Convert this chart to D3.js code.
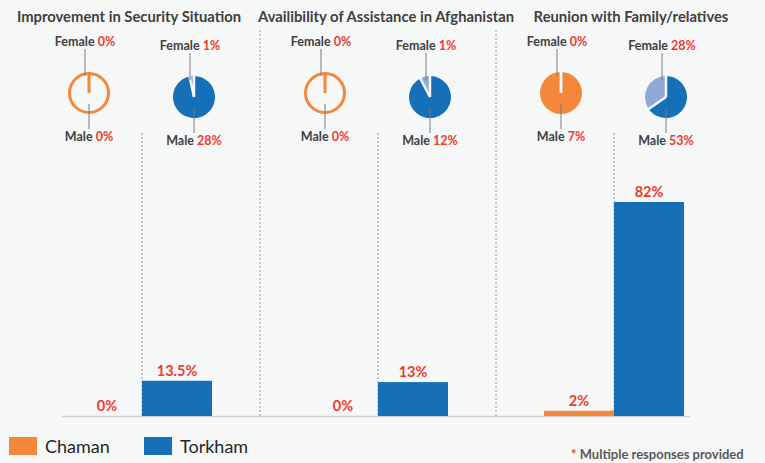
<!DOCTYPE html>
<html lang="en">
<head>
  <meta charset="UTF-8">
  <title>Reasons for return</title>
  <script src="https://d3js.org/d3.v7.min.js"></script>
  <style>
    body {
      margin: 0;
      background: #f6f7f7;
      font-family: Lato, "Open Sans", sans-serif;
    }
    svg { display: block; }
    .title { font-weight: bold; fill: #404040; font-size: 14.8px; }
    .pie-label { font-weight: bold; font-size: 12.5px; fill: #404040; }
    .red { fill: #ef3b2f; }
    .bar-label { font-weight: bold; font-size: 14.5px; fill: #ef3b2f; }
    .legend text { font-size: 18px; fill: #262626; }
  </style>
</head>
<body>
  <div id="chart"></div>

  <script>
    const categories = [
      "Improvement in Security Situation",
      "Availibility of Assistance in Afghanistan",
      "Reunion with Family/relatives"
    ];
    const sites = ["Chaman", "Torkham"];

    // bar values (% of respondents)
    const chamanValues = [0, 0, 2];
    const torkhamValues = [13.5, 13, 82];

    // pie values (male / female %)
    const chamanMale = [0, 0, 7];
    const chamanFemale = [0, 0, 0];
    const torkhamMale = [28, 12, 53];
    const torkhamFemale = [1, 1, 28];

    const width = 765;
    const height = 463;
    const baseline = 416;
    const colors = { Chaman: "#f4873a", Torkham: "#1570b8" };
    const femaleColors = { Chaman: "#f8b888", Torkham: "#8fa9d9" };
    // titles sit a little off the group centre in the original
    const titleShift = [-13, 8, 17];

    const svg = d3.select("#chart").append("svg")
      .attr("width", width)
      .attr("height", height);

    // group centres
    const gx = d3.scalePoint()
      .domain(categories)
      .range([142, 614]);

    const barW = 70;
    const inner = d3.scaleBand()
      .domain(sites)
      .range([-barW, barW])
      .padding(0);

    const y = d3.scaleLinear()
      .domain([0, d3.max(torkhamValues)])
      .range([baseline, 202]);

    // titles
    svg.selectAll(".title")
      .data(categories)
      .enter().append("text")
        .attr("class", "title")
        .attr("x", (d, i) => gx(d) + titleShift[i])
        .attr("y", 22)
        .attr("text-anchor", "middle")
        .text(d => d);

    // group separators
    const step = gx.step();
    categories.slice(1).forEach(c => {
      svg.append("line")
        .attr("x1", gx(c) - step / 2).attr("x2", gx(c) - step / 2)
        .attr("y1", 30).attr("y2", baseline)
        .attr("stroke", "#9a9a9a")
        .attr("stroke-dasharray", "2,2");
    });
    // within-group separators
    categories.forEach(c => {
      svg.append("line")
        .attr("x1", gx(c)).attr("x2", gx(c))
        .attr("y1", 133).attr("y2", baseline)
        .attr("stroke", "#9a9a9a")
        .attr("stroke-dasharray", "2,2");
    });

    // baseline
    svg.append("line")
      .attr("x1", gx(categories[0]) - 80)
      .attr("x2", gx(categories[2]) + 76)
      .attr("y1", baseline + 0.5).attr("y2", baseline + 0.5)
      .attr("stroke", "#cfcfcf")
      .attr("stroke-width", 1.5);

    // bars
    const barData = [];
    categories.forEach((c, i) => {
      barData.push({ cat: c, site: "Chaman", value: chamanValues[i] });
      barData.push({ cat: c, site: "Torkham", value: torkhamValues[i] });
    });

    svg.append("g")
      .selectAll("rect")
      .data(barData.filter(d => d.value > 0))
      .enter().append("rect")
        .attr("x", d => gx(d.cat) + inner(d.site))
        .attr("y", d => y(d.value))
        .attr("width", inner.bandwidth())
        .attr("height", d => baseline - y(d.value))
        .attr("fill", d => colors[d.site]);

    svg.append("g")
      .selectAll("text")
      .data(barData)
      .enter().append("text")
        .attr("class", "bar-label")
        .attr("x", d => gx(d.cat) + inner(d.site) + inner.bandwidth() / 2)
        .attr("y", d => y(d.value) - 5)
        .attr("text-anchor", "middle")
        .text(d => d.value + "%");

    // pies
    const r = 21;
    const pie = d3.pie().sort(null).value(d => d.value);
    const arc = d3.arc().innerRadius(0).outerRadius(r);

    const pieData = [];
    categories.forEach((c, i) => {
      pieData.push({ cat: c, site: "Chaman", cy: 93, male: chamanMale[i], female: chamanFemale[i] });
      pieData.push({ cat: c, site: "Torkham", cy: 97, male: torkhamMale[i], female: torkhamFemale[i] });
    });

    pieData.forEach(p => {
      const cx = gx(p.cat) + (p.site === "Chaman" ? -53 : 52);
      const g = svg.append("g").attr("transform", `translate(${cx},${p.cy})`);
      const total = p.male + p.female;

      if (total === 0) {
        g.append("circle")
          .attr("r", r - 1.5)
          .attr("fill", "none")
          .attr("stroke", colors[p.site])
          .attr("stroke-width", 3);
        g.append("line")
          .attr("x1", 0).attr("y1", 0)
          .attr("x2", 0).attr("y2", -r)
          .attr("stroke", colors[p.site])
          .attr("stroke-width", 3);
      } else {
        const arcs = pie([
          { key: "male", value: p.male },
          { key: "female", value: p.female }
        ]);
        g.selectAll("path")
          .data(arcs)
          .enter().append("path")
            .attr("d", arc)
            .attr("fill", d => d.data.key === "male" ? colors[p.site] : femaleColors[p.site]);
        // white gaps between slices
        g.selectAll("line.gap")
          .data(arcs)
          .enter().append("line")
            .attr("class", "gap")
            .attr("x1", 0).attr("y1", 0)
            .attr("x2", d => Math.sin(d.startAngle) * (r + 1))
            .attr("y2", d => -Math.cos(d.startAngle) * (r + 1))
            .attr("stroke", "#f6f7f7")
            .attr("stroke-width", 2.5);
      }

      // leader lines
      g.append("line")
        .attr("x1", -4).attr("x2", -4)
        .attr("y1", -44).attr("y2", -17)
        .attr("stroke", "#7a7a7a");
      g.append("line")
        .attr("x1", 0).attr("x2", 0)
        .attr("y1", 11).attr("y2", 36)
        .attr("stroke", "#7a7a7a");

      const fem = g.append("text")
        .attr("class", "pie-label")
        .attr("x", -4).attr("y", -47)
        .attr("text-anchor", "middle");
      fem.append("tspan").text("Female ");
      fem.append("tspan").attr("class", "red").text(p.female + "%");

      const male = g.append("text")
        .attr("class", "pie-label")
        .attr("x", 0).attr("y", 48)
        .attr("text-anchor", "middle");
      male.append("tspan").text("Male ");
      male.append("tspan").attr("class", "red").text(p.male + "%");
    });

    // legend
    const legend = svg.append("g").attr("class", "legend");
    const lx = d3.scaleOrdinal().domain(sites).range([9, 144]);
    sites.forEach(s => {
      legend.append("rect")
        .attr("x", lx(s)).attr("y", 437)
        .attr("width", 28).attr("height", 18)
        .attr("fill", colors[s]);
      legend.append("text")
        .attr("x", lx(s) + 36).attr("y", 453)
        .text(s);
    });

    // footnote
    const note = svg.append("text")
      .attr("x", 571).attr("y", 459)
      .attr("font-weight", "bold")
      .attr("font-size", 13)
      .attr("fill", "#595959");
    note.append("tspan").attr("fill", "#ef3b2f").text("* ");
    note.append("tspan").text("Multiple responses provided");
  </script>
</body>
</html>
